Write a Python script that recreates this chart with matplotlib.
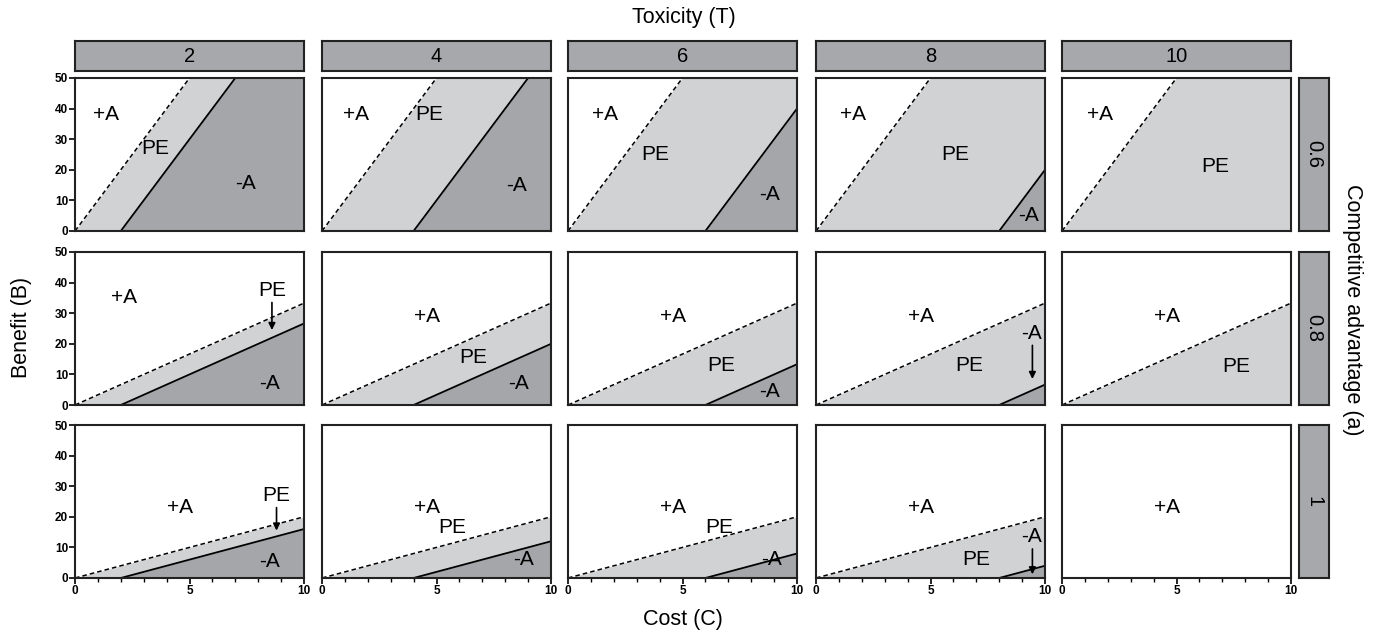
import numpy as np
import matplotlib
matplotlib.use('Agg')
import matplotlib.pyplot as plt

plt.rcParams['font.family'] = ['Liberation Sans', 'DejaVu Sans']

# facets
toxicity = [2, 4, 6, 8, 10]
advantage = [0.6, 0.8, 1]
advantage_labels = ['0.6', '0.8', '1']

# slope of the dashed (+A / PE) and solid (PE / -A) boundaries per row
slope = [10.0, 3.33, 2.0]
# solid boundary crosses B = 0 at C = T
solid_start = toxicity
# the a = 1, T = 10 panel has no PE band
pe_shown = [
    [True, True, True, True, True],
    [True, True, True, True, True],
    [True, True, True, True, False],
]

c_min, c_max = 0, 10
b_min, b_max = 0, 50

WHITE = '#ffffff'
LIGHT = '#d1d2d4'
DARK = '#a5a6a9'
STRIP = '#a7a8ab'

# region labels: (text, C, B) per panel, plus arrows (x, y_from, y_to)
labels = {
    (0, 0): [('+A', 1.35, 38), ('PE', 3.5, 27), ('-A', 7.45, 15.5)],
    (0, 1): [('+A', 1.5, 38), ('PE', 4.7, 38), ('-A', 8.5, 15)],
    (0, 2): [('+A', 1.6, 38), ('PE', 3.8, 25), ('-A', 8.8, 12)],
    (0, 3): [('+A', 1.6, 38), ('PE', 6.1, 25), ('-A', 9.3, 5)],
    (0, 4): [('+A', 1.65, 38), ('PE', 6.7, 21)],
    (1, 0): [('+A', 2.15, 35), ('PE', 8.6, 37.5), ('-A', 8.5, 7)],
    (1, 1): [('+A', 4.6, 29), ('PE', 6.6, 15.5), ('-A', 8.6, 7)],
    (1, 2): [('+A', 4.6, 29), ('PE', 6.7, 13), ('-A', 8.8, 4.5)],
    (1, 3): [('+A', 4.6, 29), ('PE', 6.7, 13), ('-A', 9.4, 23.5)],
    (1, 4): [('+A', 4.6, 29), ('PE', 7.6, 12.5)],
    (2, 0): [('+A', 4.6, 23), ('PE', 8.8, 27), ('-A', 8.5, 5.5)],
    (2, 1): [('+A', 4.6, 23), ('PE', 5.7, 16.5), ('-A', 8.8, 6)],
    (2, 2): [('+A', 4.6, 23), ('PE', 6.6, 16.5), ('-A', 8.9, 6)],
    (2, 3): [('+A', 4.6, 23), ('PE', 7.0, 6), ('-A', 9.4, 13.5)],
    (2, 4): [('+A', 4.6, 23)],
}
arrows = {
    (1, 0): (8.6, 33.5, 24.5),
    (1, 3): (9.45, 19.5, 8.5),
    (2, 0): (8.8, 23.0, 15.5),
    (2, 3): (9.45, 9.5, 1.2),
}

W, H = 1375, 632
fig = plt.figure(figsize=(W / 100, H / 100), dpi=100)

col_left = [75, 322, 568, 816, 1062]
panel_w = 229
row_top = [78, 252, 425]
panel_h = 153

LABEL_FS = 15
STRIP_FS = 14.5
TITLE_FS = 15.5
TICK_FS = 8.5


def fig_rect(x0, y0, w, h):
    return [x0 / W, 1 - (y0 + h) / H, w / W, h / H]


cc = np.linspace(c_min, c_max, 401)
for r, a in enumerate(advantage):
    for c, t in enumerate(toxicity):
        ax = fig.add_axes(fig_rect(col_left[c], row_top[r], panel_w, panel_h))
        ax.set_xlim(c_min, c_max)
        ax.set_ylim(b_min, b_max)
        ax.set_facecolor(WHITE)
        upper = np.clip(slope[r] * cc, b_min, b_max)
        lower = np.clip(slope[r] * (cc - solid_start[c]), b_min, b_max)
        if pe_shown[r][c]:
            ax.fill_between(cc, lower, upper, color=LIGHT, lw=0)
            ax.plot(cc[upper < b_max + 1e-9], upper[upper < b_max + 1e-9],
                    color='black', lw=1.1, ls=(0, (3, 2)))
            ax.fill_between(cc, b_min, lower, color=DARK, lw=0)
            m = cc >= solid_start[c]
            if solid_start[c] < c_max:
                ax.plot(cc[m][lower[m] < b_max], lower[m][lower[m] < b_max],
                        color='black', lw=1.3)
        for txt, x, y in labels[(r, c)]:
            ax.text(x, y, txt, ha='center', va='center', fontsize=LABEL_FS)
        if (r, c) in arrows:
            x, y0, y1 = arrows[(r, c)]
            ax.annotate('', xy=(x, y1), xytext=(x, y0),
                        arrowprops=dict(arrowstyle='-|>', color='black', lw=1.2,
                                        mutation_scale=10, shrinkA=0, shrinkB=0))
        for s in ax.spines.values():
            s.set_linewidth(1.5)
            s.set_color('#222222')
        ax.tick_params(direction='out', length=4, width=1.2, labelsize=TICK_FS, pad=1)
        if c == 0:
            ax.set_yticks([0, 10, 20, 30, 40, 50])
            for lab in ax.get_yticklabels():
                lab.set_fontweight('bold')
        else:
            ax.set_yticks([])
        if r == len(advantage) - 1:
            ax.set_xticks([0, 5, 10])
            ax.set_xticks(range(c_min, c_max + 1), minor=True)
            ax.tick_params(axis='x', which='minor', direction='out', length=3, width=1.0)
            for lab in ax.get_xticklabels():
                lab.set_fontweight('bold')
        else:
            ax.set_xticks([])

# strips
for c, t in enumerate(toxicity):
    sa = fig.add_axes(fig_rect(col_left[c], 41, panel_w, 30))
    sa.set_facecolor(STRIP)
    sa.set_xticks([])
    sa.set_yticks([])
    for s in sa.spines.values():
        s.set_linewidth(1.5)
        s.set_color('#222222')
    sa.text(0.5, 0.5, str(t), ha='center', va='center', fontsize=STRIP_FS, transform=sa.transAxes)

for r, lab in enumerate(advantage_labels):
    sa = fig.add_axes(fig_rect(1299, row_top[r], 30, panel_h))
    sa.set_facecolor(STRIP)
    sa.set_xticks([])
    sa.set_yticks([])
    for s in sa.spines.values():
        s.set_linewidth(1.5)
        s.set_color('#222222')
    sa.text(0.5, 0.5, lab, ha='center', va='center', fontsize=STRIP_FS, rotation=-90,
            transform=sa.transAxes)

fig.text(684 / W, 1 - 17 / H, 'Toxicity (T)', ha='center', va='center', fontsize=TITLE_FS)
fig.text(683 / W, 1 - 619 / H, 'Cost (C)', ha='center', va='center', fontsize=TITLE_FS)
fig.text(22 / W, 1 - 327 / H, 'Benefit (B)', ha='center', va='center', fontsize=TITLE_FS, rotation=90)
fig.text(1352 / W, 1 - 310 / H, 'Competitive advantage (a)', ha='center', va='center',
         fontsize=TITLE_FS, rotation=-90)

fig.savefig('out.png', dpi=100)
